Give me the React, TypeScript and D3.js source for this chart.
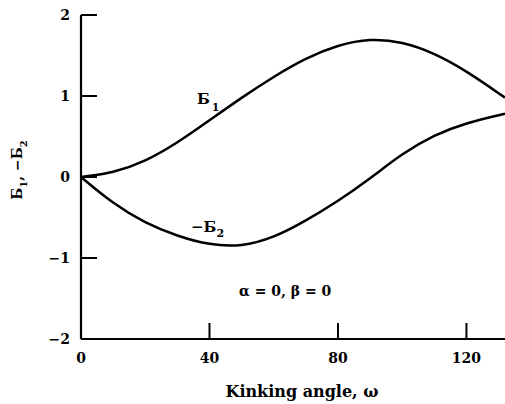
import React, { useEffect, useRef } from 'react';
import * as d3 from 'd3';

// kinking angle (deg) and curve values
const omega = [0, 10, 20, 30, 40, 50, 60, 70, 80, 90, 100, 110, 120, 132];
const delta1 = [0, 0.05, 0.19, 0.42, 0.7, 0.98, 1.24, 1.47, 1.63, 1.71, 1.67, 1.53, 1.31, 0.98];
const minusDelta2 = [0, -0.33, -0.57, -0.73, -0.84, -0.86, -0.75, -0.54, -0.3, -0.02, 0.29, 0.52, 0.67, 0.78];
const xTicks = [0, 40, 80, 120];
const yTicks = [-2, -1, 0, 1, 2];

export default function App() {
  const ref = useRef<SVGSVGElement>(null);

  useEffect(() => {
    const svg = d3.select(ref.current);
    svg.selectAll('*').remove();

    const left = 81;
    const top = 15;
    const right = 505;
    const bottom = 339;
    const font = '"DejaVu Serif", "Liberation Serif", serif';

    const x = d3.scaleLinear().domain([0, 132]).range([left, right]);
    const y = d3.scaleLinear().domain([-2, 2]).range([bottom, top]);

    // axes
    svg.append('line')
      .attr('x1', left).attr('x2', left).attr('y1', y(2)).attr('y2', bottom)
      .attr('stroke', '#000').attr('stroke-width', 2.2);
    svg.append('line')
      .attr('x1', left).attr('x2', right).attr('y1', bottom).attr('y2', bottom)
      .attr('stroke', '#000').attr('stroke-width', 2.2);

    const tickLen = 16;
    svg.selectAll('.ytick')
      .data(yTicks.filter(d => d > -2))
      .enter()
      .append('line')
      .attr('x1', left)
      .attr('x2', left + tickLen)
      .attr('y1', d => y(d))
      .attr('y2', d => y(d))
      .attr('stroke', '#000')
      .attr('stroke-width', 2);

    svg.selectAll('.xtick')
      .data(xTicks.filter(d => d > 0))
      .enter()
      .append('line')
      .attr('x1', d => x(d))
      .attr('x2', d => x(d))
      .attr('y1', bottom)
      .attr('y2', bottom - tickLen)
      .attr('stroke', '#000')
      .attr('stroke-width', 2);

    svg.selectAll('.ylab')
      .data(yTicks)
      .enter()
      .append('text')
      .attr('x', left - 11)
      .attr('y', d => y(d) + 5)
      .attr('text-anchor', 'end')
      .attr('font-family', font)
      .attr('font-weight', 'bold')
      .attr('font-size', 14)
      .text(d => (d < 0 ? '\u2212' + Math.abs(d) : String(d)));

    svg.selectAll('.xlab')
      .data(xTicks)
      .enter()
      .append('text')
      .attr('x', d => x(d))
      .attr('y', bottom + 24)
      .attr('text-anchor', 'middle')
      .attr('font-family', font)
      .attr('font-weight', 'bold')
      .attr('font-size', 14)
      .text(d => String(d));

    // curves
    const line = d3.line<[number, number]>()
      .x(d => x(d[0]))
      .y(d => y(d[1]))
      .curve(d3.curveBasis);

    const s1: [number, number][] = omega.map((w, i) => [w, delta1[i]]);
    const s2: [number, number][] = omega.map((w, i) => [w, minusDelta2[i]]);
    [s1, s2].forEach(s => {
      svg.append('path')
        .attr('d', line(s))
        .attr('fill', 'none')
        .attr('stroke', '#000')
        .attr('stroke-width', 2.5);
    });

    // curve labels
    const lab1 = svg.append('text')
      .attr('x', 197).attr('y', 104)
      .attr('font-family', font).attr('font-weight', 'bold').attr('font-size', 15);
    lab1.append('tspan').text('Б');
    lab1.append('tspan').attr('dx', 2).attr('dy', 7).attr('font-size', 11).text('1');

    const lab2 = svg.append('text')
      .attr('x', 191).attr('y', 232)
      .attr('font-family', font).attr('font-weight', 'bold').attr('font-size', 15);
    lab2.append('tspan').text('\u2212Б');
    lab2.append('tspan').attr('dx', 0).attr('dy', 5).attr('font-size', 11).text('2');

    svg.append('text')
      .attr('x', 239).attr('y', 296)
      .attr('font-family', font).attr('font-weight', 'bold').attr('font-size', 14)
      .text('\u03b1 = 0, \u03b2 = 0');

    // axis titles
    svg.append('text')
      .attr('x', 302).attr('y', 397)
      .attr('text-anchor', 'middle')
      .attr('font-family', font).attr('font-weight', 'bold').attr('font-size', 16)
      .text('Kinking angle, \u03c9');

    const yt = svg.append('text')
      .attr('transform', 'translate(22,170) rotate(-90)')
      .attr('text-anchor', 'middle')
      .attr('font-family', font).attr('font-weight', 'bold').attr('font-size', 14);
    yt.append('tspan').text('Б');
    yt.append('tspan').attr('dy', 5).attr('font-size', 10).text('1');
    yt.append('tspan').attr('dy', -5).text(', \u2212Б');
    yt.append('tspan').attr('dy', 5).attr('font-size', 10).text('2');
  }, []);

  return (
    <svg
      ref={ref}
      width={505}
      height={404}
      style={{ position: 'absolute', left: 0, top: 0, background: '#fff' }}
    />
  );
}
